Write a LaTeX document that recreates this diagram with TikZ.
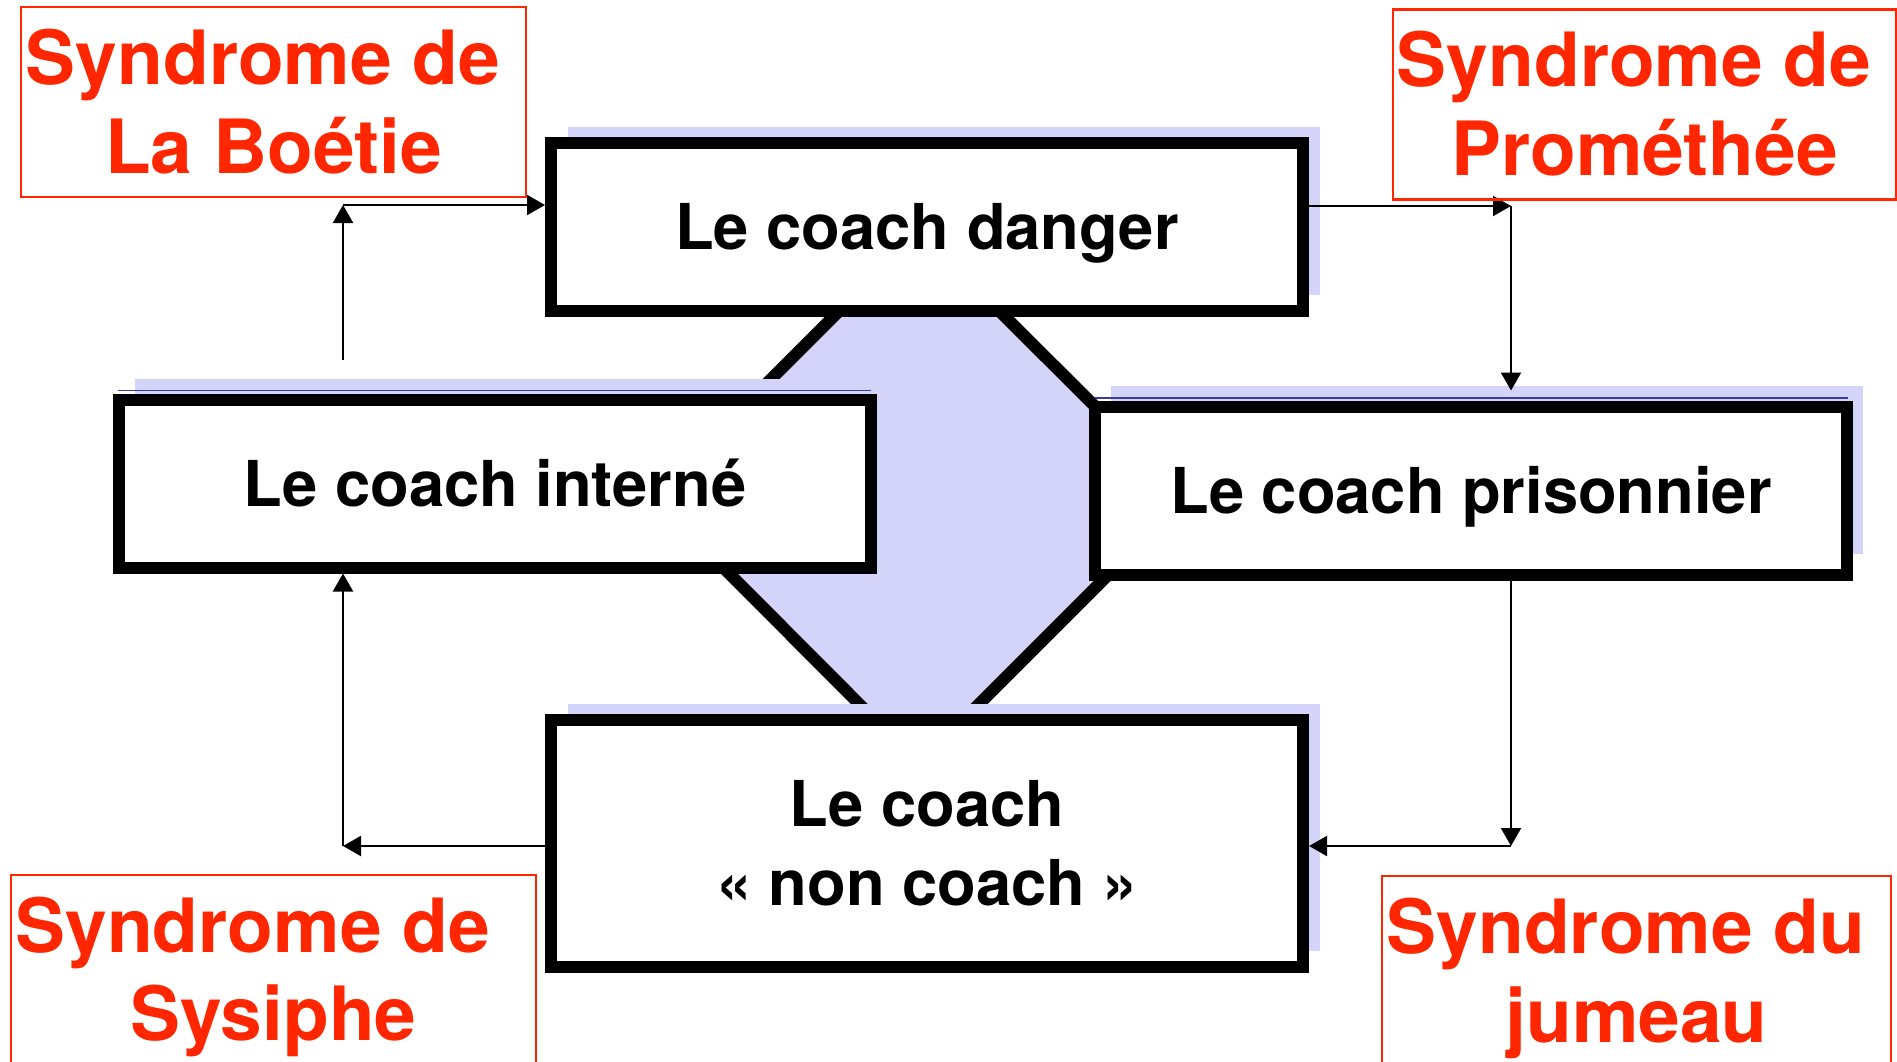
\documentclass[tikz,border=0pt]{standalone}
\usepackage{fontspec}
\setmainfont{TeX Gyre Heros}
\usetikzlibrary{positioning}
\usetikzlibrary{calc}
\usetikzlibrary{arrows.meta,shadows}

\definecolor{synred}{RGB}{255,38,0}
\definecolor{coachblue}{RGB}{212,212,250}
\definecolor{edgeblue}{RGB}{60,60,160}

\begin{document}
\begin{tikzpicture}[
  coach/.style={draw, line width=0.12cm, fill=white, inner sep=0pt,
    font=\bfseries\fontsize{18}{22.5}\selectfont,
    minimum width=7.52cm, minimum height=1.68cm, text height=13pt, text depth=0pt},
  backlow/.style={general shadow={fill=coachblue, shadow xshift=0.165cm, shadow yshift=0.16cm}},
  backhigh/.style={general shadow={fill=coachblue, shadow xshift=0.16cm, shadow yshift=0.21cm}},
  syndrome/.style={draw=synred, line width=0.6pt, text=synred, inner sep=0pt, align=center,
    font=\bfseries\fontsize{21.3}{25.3}\selectfont,
    minimum width=5.05cm, minimum height=1.9cm, text height=40.6pt, text depth=0pt},
  link/.style={line width=0.6pt, -{Triangle[length=0.18cm,width=0.2cm]}}
]
  \useasboundingbox (0,0) rectangle (18.97,10.61);

  \draw[line width=0.12cm, fill=coachblue] (9.19,8.30) -- (11.86,5.64) -- (9.19,2.97) -- (6.53,5.64) -- cycle;

  \node[coach, backlow] (danger) at (9.27,8.34) {Le coach danger};
  \node[coach, backlow, align=center, minimum height=2.47cm, text height=35.5pt, below=3.97cm of danger] (noncoach) {Le coach\\\mbox{«~non coach~»}};
  \node[coach, backhigh] (interne) at (4.95,5.775) {Le coach interné};
  \node[coach, backhigh, right=2.12cm of interne, yshift=-0.07cm] (prison) {Le coach prisonnier};

  \draw[edgeblue, line width=0.4pt] ($(interne.north west)+(0.05,0.03)$) -- ($(interne.north east)+(-0.06,0.03)$);
  \draw[edgeblue, line width=0.4pt] ($(prison.north west)+(0.06,0.025)$) -- ($(prison.north east)+(-0.05,0.025)$);

  \coordinate (tl) at (3.43,8.56);
  \coordinate (tr) at (15.11,8.55);
  \coordinate (br) at (15.11,2.15);
  \coordinate (bl) at (3.43,2.15);

  \draw[link, shorten <=0.34cm] (interne.north -| tl) -- (tl);
  \draw[link] (tl) -- (tl -| danger.west);
  \draw[link] (tr -| danger.east) -- (tr);
  \draw[link, shorten >=0.1cm] (tr) -- (tr |- prison.north);
  \draw[link] (prison.south -| br) -- (br);
  \draw[link] (br) -- (br -| noncoach.east);
  \draw[link] (bl -| noncoach.west) -- (bl);
  \draw[link] (bl) -- (bl |- interne.south);

  \node[syndrome] (boetie) at (2.735,9.59) {\mbox{Syndrome de\ }\\La Boétie};
  \node[syndrome, minimum width=5.03cm] (promethee) at (16.445,9.565) {\mbox{Syndrome de\ }\\Prométhée};
  \node[syndrome, minimum width=5.25cm] (sysiphe) at (2.735,0.914) {\mbox{Syndrome de\ \ }\\Sysiphe};
  \node[syndrome, minimum width=5.09cm] (jumeau) at (16.365,0.90) {\mbox{Syndrome du\ }\\jumeau};
\end{tikzpicture}
\end{document}
